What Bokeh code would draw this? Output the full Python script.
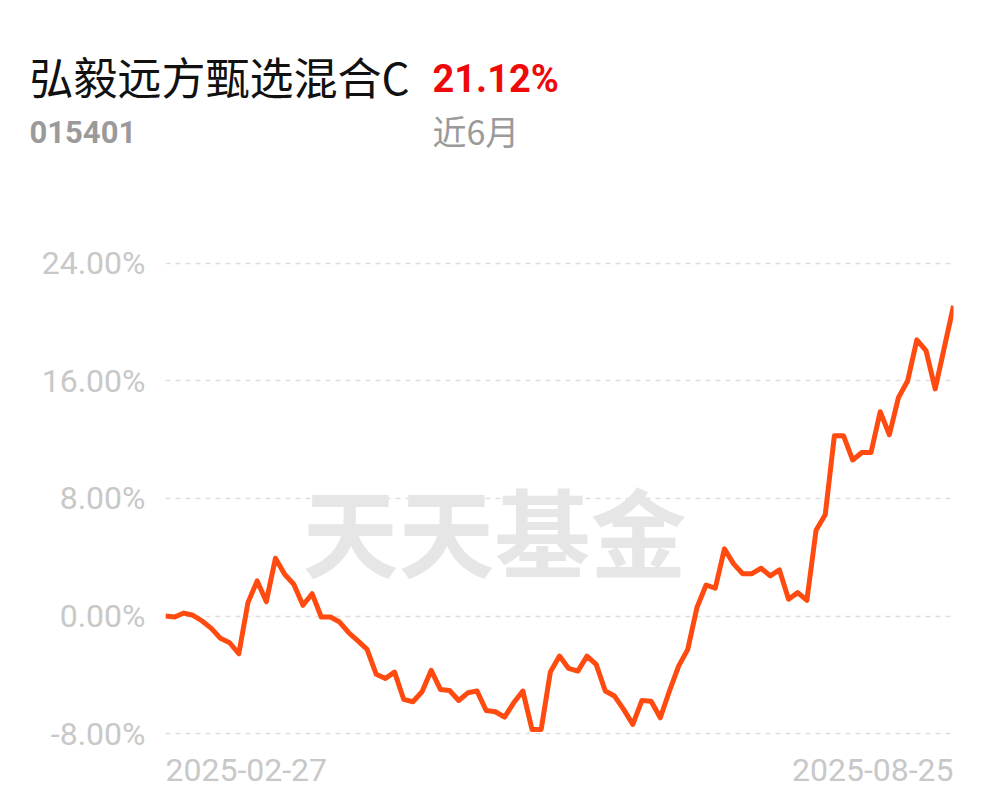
from bokeh.plotting import figure
from bokeh.models import Range1d, FixedTicker, PrintfTickFormatter, Label
from bokeh.embed import file_html
from bokeh.resources import INLINE

fund_name = "弘毅远方甄选混合C"
fund_code = "015401"
period_label = "近6月"
period_return = "21.12%"
start_date = "2025-02-27"
end_date = "2025-08-25"
watermark = "天天基金"
y_ticks = [-8, 0, 8, 16, 24]

returns = [
    0.00, -0.07, 0.20, 0.05, -0.34, -0.84, -1.52, -1.82, -2.57, 0.91,
    2.39, 0.98, 3.93, 2.84, 2.16, 0.73, 1.52, -0.07, -0.07, -0.41,
    -1.14, -1.70, -2.27, -3.97, -4.25, -3.82, -5.68, -5.84, -5.16, -3.70,
    -5.00, -5.07, -5.75, -5.23, -5.11, -6.43, -6.52, -6.89, -5.91, -5.11,
    -7.72, -7.72, -3.82, -2.73, -3.57, -3.75, -2.73, -3.29, -5.11, -5.45,
    -6.36, -7.38, -5.75, -5.80, -6.93, -5.11, -3.41, -2.27, 0.58, 2.11,
    1.89, 4.57, 3.55, 2.88, 2.88, 3.25, 2.73, 3.14, 1.14, 1.59,
    1.07, 5.84, 6.89, 12.27, 12.27, 10.62, 11.13, 11.13, 13.91, 12.34,
    14.88, 16.02, 18.80, 18.07, 15.46, 18.29, 21.12,
]
days = list(range(len(returns)))

p = figure(width=989, height=794, output_backend="svg", toolbar_location=None,
           x_range=Range1d(0, len(returns) - 1), y_range=Range1d(-11.88, 25.02),
           x_axis_location=None,
           min_border_left=165, min_border_right=36,
           min_border_top=248, min_border_bottom=4)
p.outline_line_color = None
p.background_fill_color = "white"
p.border_fill_color = "white"

p.xgrid.visible = False
p.ygrid.grid_line_color = "#dedede"
p.ygrid.grid_line_dash = "5 5"
p.ygrid.grid_line_width = 1.5

ax = p.yaxis[0]
ax.ticker = FixedTicker(ticks=y_ticks)
ax.formatter = PrintfTickFormatter(format="%.2f%%")
ax.axis_line_color = None
ax.major_tick_line_color = None
ax.minor_tick_line_color = None
ax.major_tick_out = 0
ax.major_label_standoff = 20
ax.major_label_text_font = "Roboto"
ax.major_label_text_font_size = "32px"
ax.major_label_text_color = "#c8c8c8"


def make_label(x, y, text, size, color, style="normal", font="Roboto",
               align="left", xu="canvas", level="annotation"):
    return Label(x=x, y=y, x_units=xu, y_units="canvas", text=text,
                 text_font=font, text_font_size=size, text_color=color,
                 text_font_style=style, text_align=align,
                 text_baseline="middle", level=level)


# header texts (side panel, not clipped to the frame)
p.add_layout(make_label(29, 75, fund_name, "44px", "#111111", font="Noto Sans CJK SC"), "above")
p.add_layout(make_label(432, 78, period_return, "38px", "#ee0a0a", style="bold"), "above")
p.add_layout(make_label(29, 131, fund_code, "31px", "#9a9a9a", style="bold"), "above")
p.add_layout(make_label(432, 130, period_label, "34px", "#9a9a9a", font="Noto Sans CJK SC"), "above")

# watermark
p.add_layout(Label(x=302, y=528, x_units="canvas", y_units="canvas", text=watermark,
                   text_font="Noto Sans CJK SC", text_font_style="bold",
                   text_font_size="96px", text_color="#e6e6e6",
                   text_align="left", text_baseline="middle", level="underlay"))

# date labels at the two ends of the x range
p.add_layout(make_label(days[0], 769, start_date, "32px", "#c8c8c8", xu="data", level="underlay"))
p.add_layout(make_label(days[-1], 769, end_date, "32px", "#c8c8c8", align="right",
                        xu="data", level="underlay"))

p.line(days, returns, line_color="#ff4a10", line_width=5, line_join="round")

open("out.html", "w").write(file_html(p, INLINE))
